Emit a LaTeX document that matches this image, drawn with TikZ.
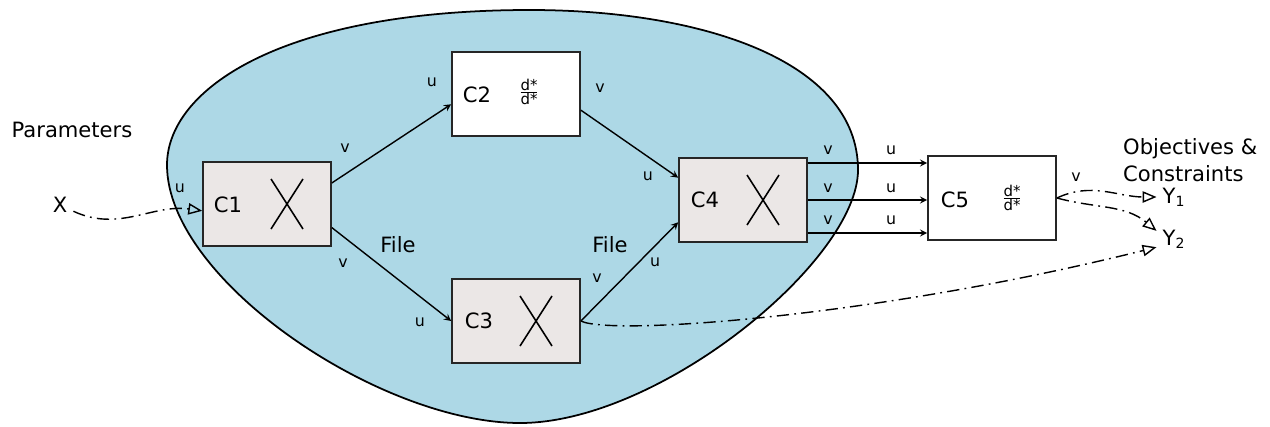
\documentclass[tikz,border=0pt]{standalone}
\usepackage{fontspec}
\setmainfont{DejaVu Sans}
\usetikzlibrary{arrows}

\definecolor{blobblue}{HTML}{ADD8E6}
\definecolor{boxgray}{HTML}{EBE7E6}

\begin{document}
\begin{tikzpicture}[>=stealth, x=0.02cm, y=-0.02cm,
    comp/.style={draw=black!85, line width=1pt, minimum width=2.56cm, minimum height=1.68cm, inner sep=0pt},
    port/.style={font=\fontsize{9}{10}\selectfont, inner sep=0pt},
    big/.style={font=\fontsize{12}{15.5}\selectfont},
    small/.style={font=\fontsize{8.5}{9}\selectfont},
    dashdot/.style={dash pattern=on 7pt off 3pt on 1pt off 3pt, line width=0.8pt}]

    \useasboundingbox (0,0) rectangle (1270,426);

    %%% The coupled region
    \draw[fill=blobblue, draw=black, line width=1pt]
        (167,165) .. controls (167,90) and (280,10) .. (530,10)
                  .. controls (700,10) and (858,60) .. (858,170)
                  .. controls (858,260) and (660,423) .. (520,423)
                  .. controls (380,423) and (167,280) .. cycle;

    %%% Components
    \node (c1) [comp, fill=boxgray] at (267,204) {};
    \node (c2) [comp, fill=white]   at (516,94)  {};
    \node (c3) [comp, fill=boxgray] at (516,321) {};
    \node (c4) [comp, fill=boxgray] at (743,200) {};
    \node (c5) [comp, fill=white]   at (992,198) {};

    % Names of the components
    \node (c1t) [big] at (228,205) {C1};
    \node (c2t) [big] at (477,95)  {C2};
    \node (c3t) [big] at (479,321) {C3};
    \node (c4t) [big] at (705,200) {C4};
    \node (c5t) [big] at (955,200) {C5};

    % Derivatives and crosses
    \node (c2d) [small] at (529,92)   {$\frac{\mbox{d*}}{\mbox{d*}}$};
    \node (c5d) [small] at (1012,198) {$\frac{\mbox{d*}}{\mbox{d*}}$};
    \foreach \c in {c1,c3,c4} {
        \draw[line width=0.9pt] ([shift={(4,-25)}]\c.center) -- ([shift={(36,25)}]\c.center);
        \draw[line width=0.9pt] ([shift={(36,-25)}]\c.center) -- ([shift={(4,25)}]\c.center);
    }

    %%% Inputs and outputs
    \node (par) [big] at (72,130) {Parameters};
    \node (x)   [big] at (60,205) {X};
    \node (obj) [big, align=left, anchor=west] at (1117,160) {Objectives \&\\Constraints};
    \node (y1)  [big] at (1174,197) {Y\textsubscript{1}};
    \node (y2)  [big] at (1174,239) {Y\textsubscript{2}};

    %%% Data flows
    \draw[->, line width=0.8pt] (c1.18)  -- (c2.189);
    \draw[->, line width=0.8pt] (c1.-20) -- (c3.west);
    \draw[->, line width=0.8pt] (c2.-14) -- (c4.161);
    \draw[->, line width=0.8pt] (c3.east) -- (c4.199);
    \foreach \y in {163,200,233}
        \draw[->, line width=0.8pt] (c4.east |- 0,\y) -- (c5.west |- 0,\y);

    \draw[dashdot, -open triangle 45] (x) to[out=-25, in=172] (c1.186);
    \draw[dashdot, -open triangle 45] (c5.east) to[out=25, in=180] (y1.west);
    \draw[dashdot, -open triangle 45] (c5.east) to[out=-15, in=140] (y2.155);
    \draw[dashdot, -open triangle 45] (c3.east) .. controls +(30,15) and +(-280,70) .. (y2.205);

    % Port labels
    \node (u1)  [port] at (180,188)  {u};
    \node (v12) [port] at (345,148)  {v};
    \node (u12) [port] at (432,82)   {u};
    \node (v13) [port] at (343,263)  {v};
    \node (u13) [port] at (420,322)  {u};
    \node (v24) [port] at (600,88)   {v};
    \node (u24) [port] at (648,176)  {u};
    \node (v34) [port] at (597,278)  {v};
    \node (u34) [port] at (655,262)  {u};
    \node (v5)  [port] at (1076,177) {v};
    \foreach \y [count=\i] in {150,188,220} {
        \node (v4\i) [port] at (828,\y) {v};
        \node (u5\i) [port] at (891,\y) {u};
    }

    % File labels
    \node (f1) [big] at (398,245) {File};
    \node (f2) [big] at (610,245) {File};

\end{tikzpicture}
\end{document}
